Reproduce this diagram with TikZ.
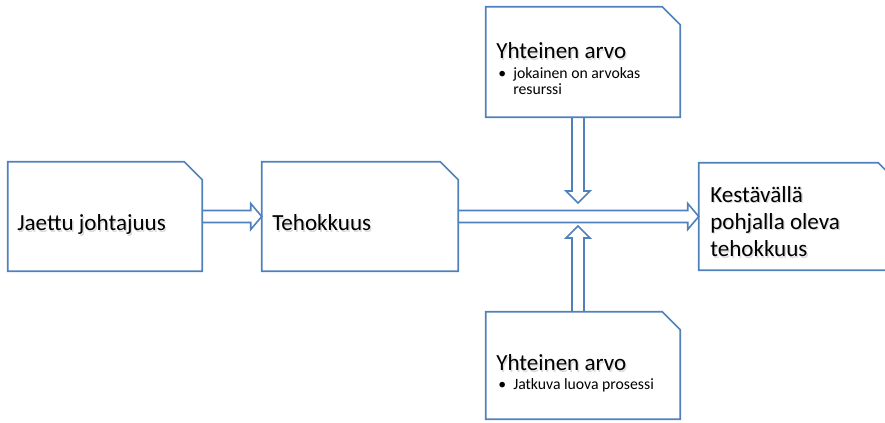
\documentclass[tikz,border=0pt]{standalone}
\usepackage{fontspec}
\setmainfont{Carlito}
\usetikzlibrary{calc,fit}
\definecolor{officeblue}{HTML}{4F81BD}
\tikzset{
  cardline/.style={draw=officeblue, line width=1.2pt, line join=miter},
  card/.style={inner sep=0pt, draw=none},
  bigtxt/.style={anchor=base west, inner sep=0pt, align=left, font=\fontsize{17.3pt}{20.6pt}\selectfont, text=black},
  smalltxt/.style={anchor=base west, inner sep=0pt, align=left, font=\fontsize{11.8pt}{12pt}\selectfont, text=black},
  hollow/.style={draw=officeblue, line width=1.2pt, line join=miter},
}
% text with a soft grey drop shadow behind it
\newcommand\shtext[1]{\makebox[0pt][l]{\raisebox{-1pt}{\hspace{1pt}\textcolor{black!14}{#1}}}#1}
% bullet hanging in a fixed indent
\newcommand\bul{\makebox[11.25pt][l]{•}}
% outline of a card whose top right corner is snipped off
\newcommand\cardoutline[1]{%
  \draw[cardline] (#1.south west) -- (#1.north west) -- ([xshift=-13.5pt]#1.north east)
    -- ([yshift=-13.5pt]#1.north east) -- (#1.south east) -- cycle;}
\begin{document}
\begin{tikzpicture}[x=0.75pt, y=-0.75pt]
  \path[use as bounding box] (0,0) rectangle (885,423);
  \clip (0,0) rectangle (885,423);
  \fill[white] (0,0) rectangle (885,423);

  % cards
  \node[card, fit={(8,162) (202,271)}] (lead) {};
  \node[card, fit={(262,162) (458,271)}] (eff) {};
  \node[card, fit={(486,7) (680,117)}] (valA) {};
  \node[card, fit={(486,312) (680,419)}] (valB) {};
  \node[card, fit={(699,163) (896,270)}] (sust) {};

  % arrow tips that end in the open
  \coordinate (downtip) at (578,203);
  \coordinate (uptip) at (578,226);

  % hollow arrow: leadership -> efficiency
  \draw[hollow] ($(lead.east)+(0,-6)$) -- ($(eff.west)+(-11,-6)$) -- ($(eff.west)+(-11,-13)$)
    -- (eff.west) -- ($(eff.west)+(-11,13)$) -- ($(eff.west)+(-11,6)$) -- ($(lead.east)+(0,6)$);
  % hollow arrow: efficiency -> sustainable efficiency
  \draw[hollow] ($(eff.east)+(0,-6)$) -- ($(sust.west)+(-11,-6)$) -- ($(sust.west)+(-11,-13)$)
    -- (sust.west) -- ($(sust.west)+(-11,13)$) -- ($(sust.west)+(-11,6)$) -- ($(eff.east)+(0,6)$);
  % hollow arrow down from the upper value card
  \draw[hollow] (valA.south -| 572,0) -- (572,191) -- (566,191) -- (downtip)
    -- (590,191) -- (584,191) -- (valA.south -| 584,0);
  % hollow arrow up from the lower value card
  \draw[hollow] (valB.north -| 572,0) -- (572,238) -- (566,238) -- (uptip)
    -- (590,238) -- (584,238) -- (valB.north -| 584,0);

  \foreach \c in {lead,eff,valA,valB,sust} {\cardoutline{\c}}

  % texts (multi-line nodes are placed by the baseline of their last line)
  \node[bigtxt] (t1) at (17,231) {\shtext{Jaettu johtajuus}};
  \node[bigtxt] (t2) at (272,231) {\shtext{Tehokkuus}};
  \node[bigtxt] (t3) at (710,257) {\shtext{Kestävällä}\\\shtext{pohjalla oleva}\\\shtext{tehokkuus}};
  \node[bigtxt] (t4) at (496,59) {\shtext{Yhteinen arvo}};
  \node[smalltxt] (t4a) at (498,95) {\bul jokainen on arvokas\\\hspace*{11.25pt}resurssi};
  \node[bigtxt] (t5) at (496,371) {\shtext{Yhteinen arvo}};
  \node[smalltxt] (t5a) at (498,390) {\bul Jatkuva luova prosessi};
\end{tikzpicture}
\end{document}
